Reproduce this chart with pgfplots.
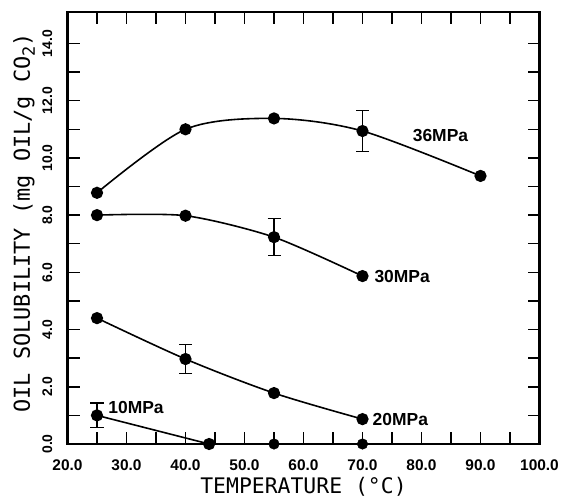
\documentclass[border=0pt]{standalone}
\usepackage{fontspec}
\setmainfont{Liberation Sans}
\newfontfamily\monofont{DejaVu Sans Mono}
\usepackage{pgfplots}
\pgfplotsset{compat=1.18}
\begin{document}
\begin{tikzpicture}
\useasboundingbox (0,0) rectangle (564bp,499bp);
\begin{axis}[
  at={(67.5bp,55bp)}, anchor=south west,
  scale only axis, width=472bp, height=432bp,
  xmin=20, xmax=100, ymin=0, ymax=15.1,
  clip=false,
  xtick={20,30,...,100}, minor xtick={25,35,...,95},
  ytick={0,2,...,14}, minor ytick={1,3,...,13},
  tick align=inside,
  major tick length=12bp, minor tick length=12bp,
  tick style={black, line width=1.5pt},
  axis line style={draw=none},
  /pgf/number format/fixed,
  /pgf/number format/fixed zerofill,
  /pgf/number format/precision=1,
  /pgf/number format/assume math mode=true,
  xticklabel style={font=\bfseries\fontsize{15.5}{15.5}\selectfont, inner sep=0pt, anchor=north},
  xticklabel shift=16bp,
  yticklabel style={font=\bfseries\fontsize{14}{14}\selectfont, inner sep=0pt, rotate=90, anchor=south},
  yticklabel shift=15bp,
  xlabel={TEMPERATURE (°C)},
  xlabel style={font=\monofont\fontsize{21.5}{21.5}\selectfont, at={(axis description cs:0.5,0)}, anchor=base, yshift=-49bp, inner sep=0pt},
  ylabel={OIL SOLUBILITY (mg OIL/g CO\raisebox{-0.4ex}{\fontsize{17}{17}\selectfont 2})},
  ylabel style={font=\monofont\fontsize{22}{22}\selectfont, at={(axis description cs:-0.092,0.512)}, anchor=center, rotate=0, inner sep=0pt},
]
\draw[black, line width=2.2bp] (rel axis cs:0,0) rectangle (rel axis cs:1,1);
% 36 MPa
\addplot[black, line width=1.6pt, smooth, mark=*, mark size=5.3bp]
  coordinates {(25,8.78) (40,11.0) (55,11.38) (70,10.94) (90,9.37)};
% 30 MPa
\addplot[black, line width=1.6pt, smooth, tension=0.45, mark=*, mark size=5.3bp]
  coordinates {(25,8.0) (40,7.98) (55,7.23) (70,5.87)};
% 20 MPa
\addplot[black, line width=1.6pt, smooth, mark=*, mark size=5.3bp]
  coordinates {(25,4.40) (40,2.97) (55,1.78) (70,0.87)};
% 10 MPa
\addplot[black, line width=1.6pt, mark=*, mark size=5.3bp]
  coordinates {(25,1.0) (44,0)};
\addplot[black, only marks, mark=*, mark size=5.3bp]
  coordinates {(55,0) (70,0)};
% error bars
\addplot[black, only marks, mark=none,
  error bars/.cd, y dir=both, y explicit,
  error bar style={black, line width=1.3pt},
  error mark options={black, rotate=90, mark size=6.5bp, line width=1.3pt}]
  coordinates {(70,10.94) +- (0,0.72) (55,7.23) +- (0,0.65) (40,2.97) +- (0,0.51) (25,1.0) +- (0,0.43)};
% labels
\node[anchor=west, inner sep=0pt, font=\bfseries\fontsize{17.5}{17.5}\selectfont] at (axis cs:78.5,10.8) {36MPa};
\node[anchor=west, inner sep=0pt, font=\bfseries\fontsize{17.5}{17.5}\selectfont] at (axis cs:72.0,5.87) {30MPa};
\node[anchor=west, inner sep=0pt, font=\bfseries\fontsize{17.5}{17.5}\selectfont] at (axis cs:71.7,0.87) {20MPa};
\node[anchor=west, inner sep=0pt, font=\bfseries\fontsize{17.5}{17.5}\selectfont] at (axis cs:26.9,1.29) {10MPa};
\end{axis}
\end{tikzpicture}
\end{document}
